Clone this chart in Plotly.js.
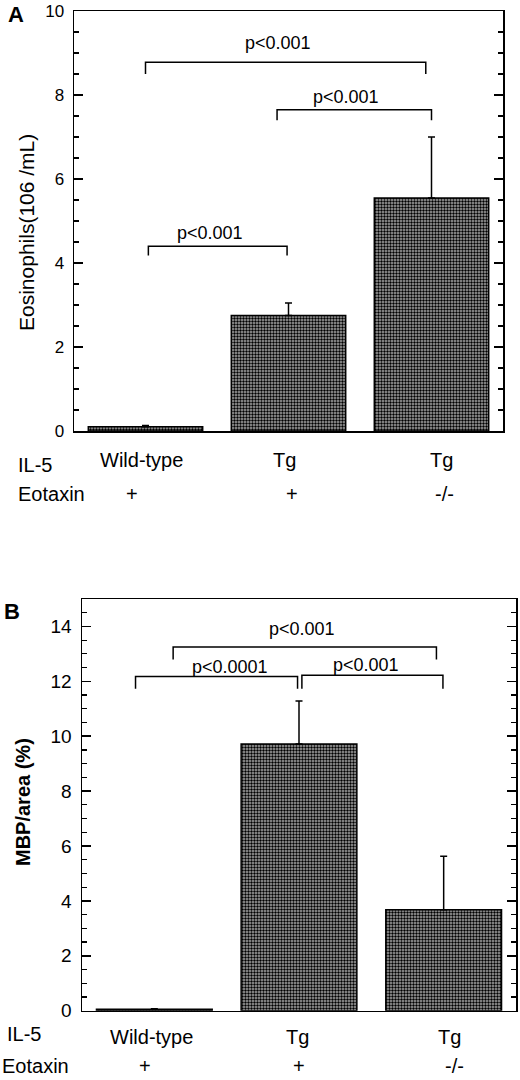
<!DOCTYPE html>
<html>
<head>
<meta charset="utf-8">
<script src="https://cdn.plot.ly/plotly-3.0.1.min.js"></script>
<style>
  html, body { margin: 0; padding: 0; background: #fff; }
  #chart { width: 520px; height: 1080px; }
</style>
</head>
<body>
<div id="chart"></div>
<script>
// genotype groups (same for both panels)
const il5 = ['Wild-type', 'Tg', 'Tg'];
const eotaxin = ['+', '+', '-/-'];

// panel A: eosinophils (10^6/mL)
const eosMean = [0.1, 2.75, 5.55];
const eosErr = [0.03, 0.3, 1.45];

// panel B: MBP/area (%)
const mbpMean = [0.05, 9.72, 3.68];
const mbpErr = [0.02, 1.56, 1.95];

// significance brackets: [from, to, top, drop, label, labelX, labelY]
const bracketsA = [
  [0.0, 1.96, 8.78, 8.5, 'p<0.001', 0.93, 9.24],
  [0.92, 2.0, 7.65, 7.4, 'p<0.001', 1.4, 7.95],
  [0.02, 0.99, 4.4, 4.18, 'p<0.001', 0.45, 4.71]
];
const bracketsB = [
  [0.13, 1.95, 13.25, 12.8, 'p<0.001', 1.02, 13.9],
  [-0.13, 0.99, 12.18, 11.73, 'p<0.0001', 0.52, 12.54],
  [1.02, 1.995, 12.22, 11.73, 'p<0.001', 1.46, 12.6]
];

const W = 520, H = 1080;
const FONT = 'Liberation Sans, Arial, Helvetica, sans-serif';
const py = px => 1 - px / H;
const idx = il5.map((_, i) => i);

function barTrace(y, err, xa, ya) {
  return {
    type: 'bar',
    x: idx,
    y: y,
    xaxis: xa,
    yaxis: ya,
    width: 0.8,
    marker: {
      color: '#ffffff',
      line: { color: '#000', width: 1.5 },
      pattern: { shape: '.', fgcolor: '#000', bgcolor: '#a8a8a8', size: 3, solidity: 0.5 }
    },
    error_y: {
      type: 'data',
      symmetric: false,
      array: err,
      arrayminus: err.map(() => 0),
      color: '#000',
      thickness: 1.5,
      width: 3.5
    },
    hoverinfo: 'skip',
    showlegend: false
  };
}

const data = [
  barTrace(eosMean, eosErr, 'x', 'y'),
  barTrace(mbpMean, mbpErr, 'x2', 'y2')
];

function yAxis(domain, range, size, anchor) {
  return {
    domain: domain,
    range: range,
    anchor: anchor,
    dtick: 2,
    tick0: 0,
    ticks: 'inside',
    ticklen: 9,
    tickwidth: 1.5,
    tickcolor: '#000',
    minor: { dtick: 0.5, ticks: 'inside', ticklen: 5, tickwidth: 1.2, tickcolor: '#000' },
    showline: true,
    linecolor: '#000',
    linewidth: 1.5,
    mirror: 'ticks',
    showgrid: false,
    zeroline: false,
    ticklabelstandoff: 5,
    tickfont: { family: FONT, size: size, color: '#000' },
    fixedrange: true
  };
}

function xAxis(domain, anchor) {
  return {
    domain: domain,
    range: [-0.5, 2.5],
    anchor: anchor,
    showticklabels: false,
    ticks: '',
    showline: true,
    linecolor: '#000',
    linewidth: 1.5,
    mirror: true,
    showgrid: false,
    zeroline: false,
    fixedrange: true
  };
}

const shapes = [];
const annotations = [];

function addBrackets(list, xr, yr, size) {
  list.forEach(b => {
    shapes.push({
      type: 'path',
      xref: xr, yref: yr,
      path: `M ${b[0]},${b[3]} L ${b[0]},${b[2]} L ${b[1]},${b[2]} L ${b[1]},${b[3]}`,
      line: { color: '#000', width: 1.5 }
    });
    annotations.push({
      xref: xr, yref: yr, x: b[5], y: b[6],
      text: b[4], showarrow: false,
      xanchor: 'center', yanchor: 'middle',
      font: { family: FONT, size: size, color: '#000' }
    });
  });
}
addBrackets(bracketsA, 'x', 'y', 18);
addBrackets(bracketsB, 'x2', 'y2', 18);

// genotype rows under each panel
function addRows(xr, rowY, rowLeft, shifts, size) {
  const txt = (t, x, y, xa, extra) => Object.assign({
    text: t, x: x, y: y, xref: xa, yref: 'paper', showarrow: false,
    xanchor: 'center', yanchor: 'middle',
    font: { family: FONT, size: size, color: '#000' }
  }, extra || {});
  annotations.push(txt('IL-5', rowLeft[0] / W, py(rowY[0] + rowY[2]), 'paper', { xanchor: 'left' }));
  annotations.push(txt('Eotaxin', rowLeft[1] / W, py(rowY[1]), 'paper', { xanchor: 'left' }));
  il5.forEach((t, i) => annotations.push(txt(t, i, py(rowY[0]), xr, { xshift: shifts[0][i] })));
  eotaxin.forEach((t, i) => annotations.push(txt(t, i, py(rowY[1]), xr, { xshift: shifts[1][i] })));
}
addRows('x', [460, 494, 5], [16, 16], [[-4, -4, 10], [-14, 3, 13]], 20);
addRows('x2', [1037, 1066, -3], [5, 0], [[-3, -2, 6], [-9, 0, 11]], 20);

// panel letters and y titles
const label = (text, x, y, size, angle) => ({
  text: text, xref: 'paper', yref: 'paper', x: x / W, y: py(y),
  xanchor: 'center', yanchor: 'middle', textangle: angle || 0,
  showarrow: false, font: { family: FONT, size: size, color: '#000' }
});
annotations.push(label('<b>A</b>', 16, 15, 22));
annotations.push(label('<b>B</b>', 12, 611, 22));
annotations.push(label('Eosinophils(106 /mL)', 26, 233, 21, -90));
annotations.push(label('<b>MBP/area (%)</b>', 23, 802, 20, -90));

const layout = {
  width: W,
  height: H,
  margin: { l: 0, r: 0, t: 0, b: 0 },
  paper_bgcolor: '#fff',
  plot_bgcolor: '#fff',
  showlegend: false,
  xaxis: xAxis([74 / W, 503 / W], 'y'),
  yaxis: yAxis([py(431), py(11)], [0, 10], 17, 'x'),
  xaxis2: xAxis([82 / W, 516 / W], 'y2'),
  yaxis2: yAxis([py(1010.7), py(599)], [0, 15], 19, 'x2'),
  shapes: shapes,
  annotations: annotations
};

Plotly.newPlot('chart', data, layout, { displayModeBar: false, staticPlot: true });
</script>
</body>
</html>
